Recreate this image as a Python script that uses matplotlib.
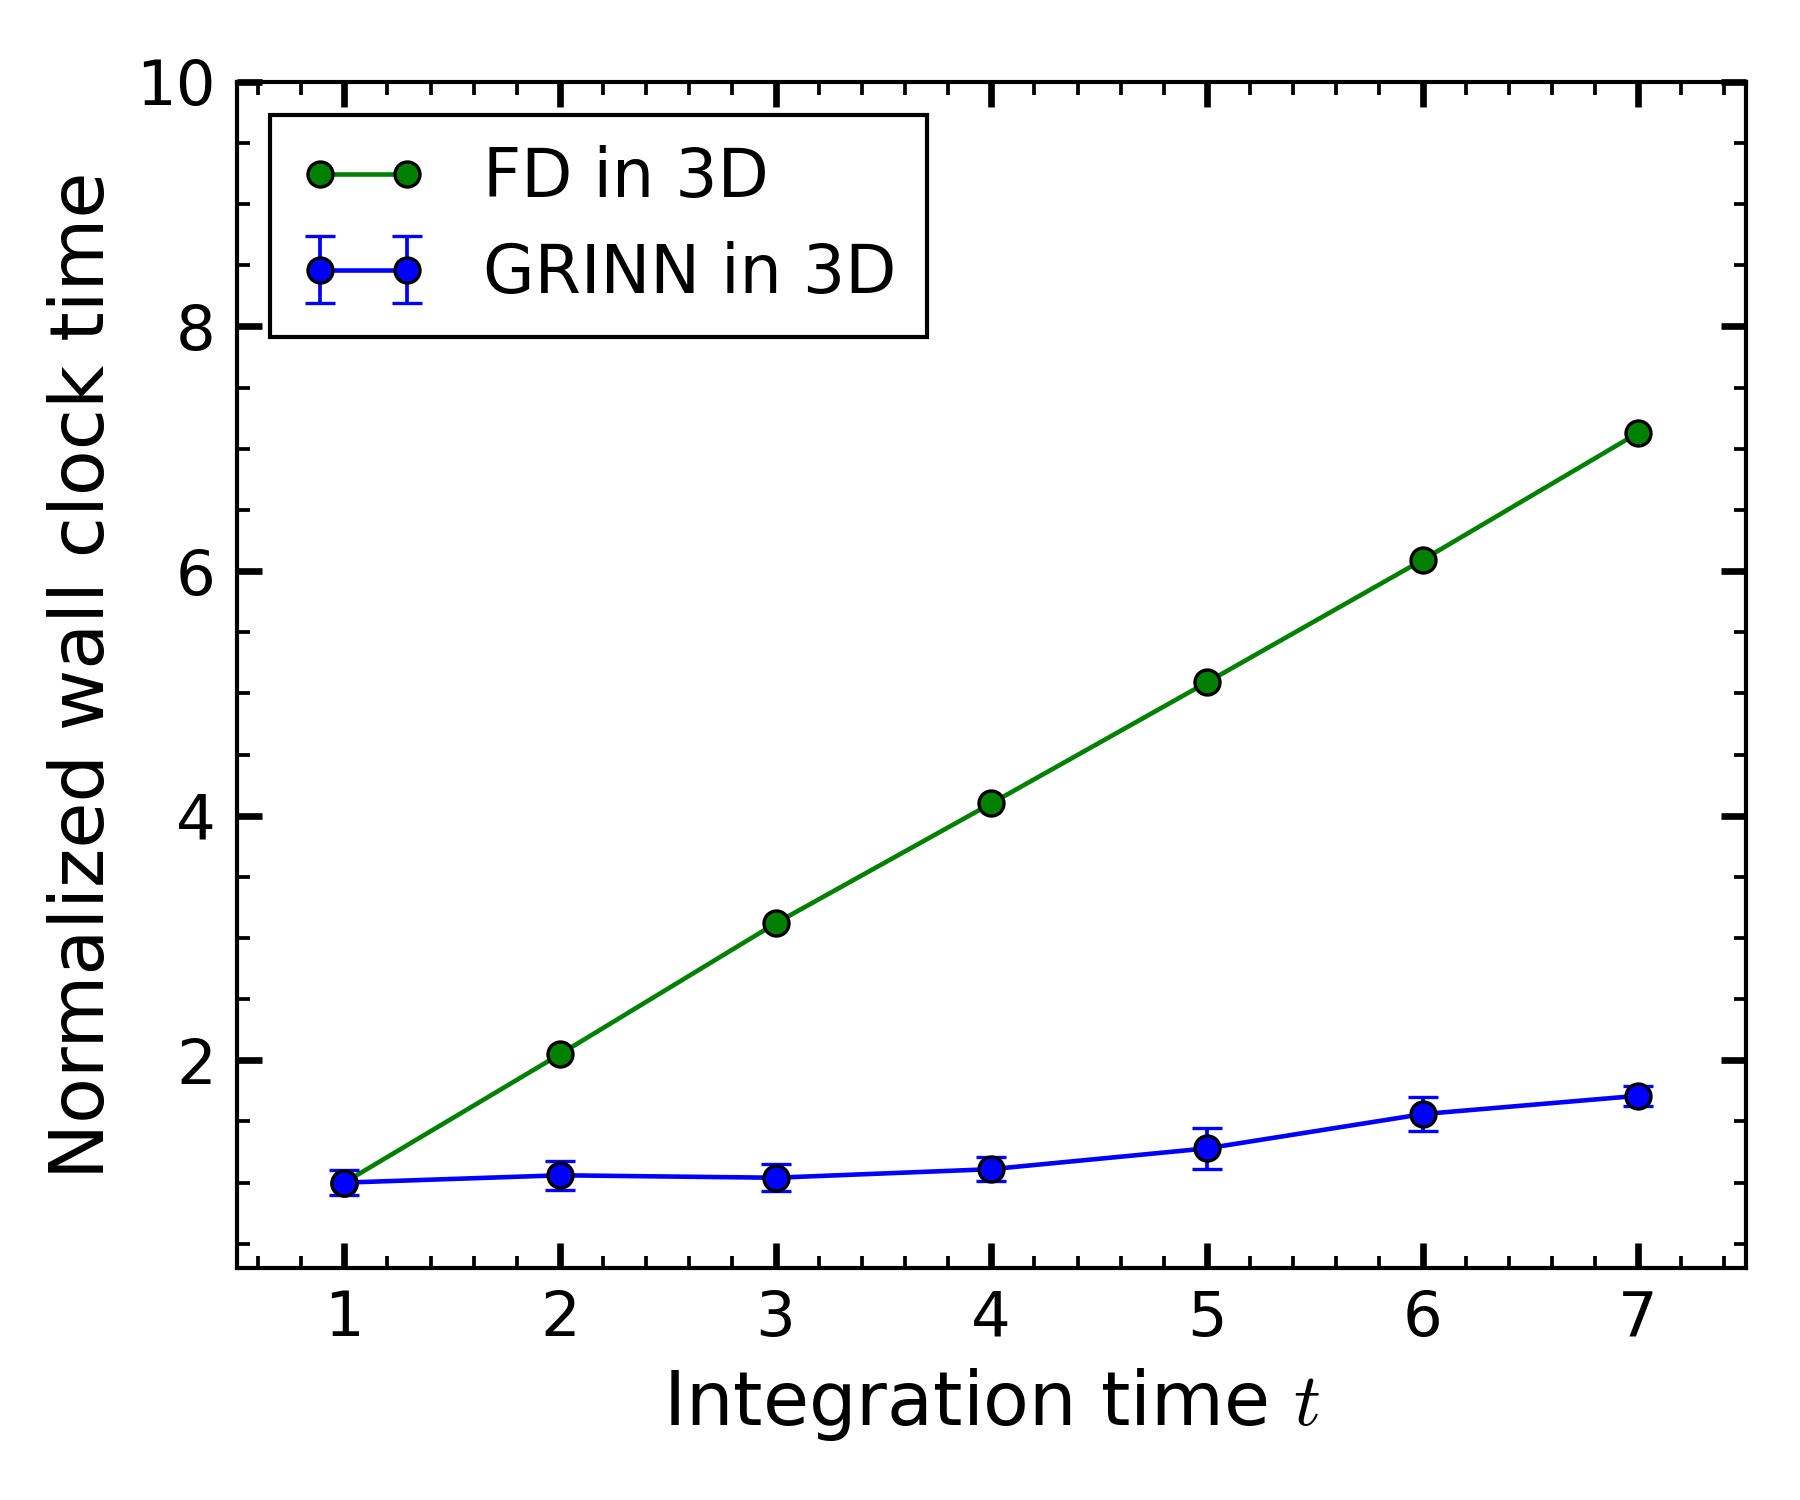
import matplotlib
matplotlib.use("Agg")
import matplotlib.pyplot as plt
from matplotlib.ticker import MultipleLocator

plt.rcParams.update({"font.size": 12, "mathtext.fontset": "cm"})

# data
t = [1, 2, 3, 4, 5, 6, 7]
fd = [1.0, 2.05, 3.12, 4.10, 5.09, 6.09, 7.13]
grinn = [1.0, 1.06, 1.04, 1.11, 1.28, 1.56, 1.71]
grinn_err = [0.10, 0.12, 0.11, 0.10, 0.17, 0.14, 0.08]

fig = plt.figure(figsize=(6, 5), dpi=300)
ax = fig.add_axes([0.1314, 0.1545, 0.8386, 0.791])

ax.plot(t, fd, "-o", color="green", lw=1.1, ms=6, mec="black", mew=0.8,
        label="FD in 3D")
ax.errorbar(t, grinn, yerr=grinn_err, fmt="-o", color="blue", lw=1.1, ms=6,
            mec="black", mew=0.8, ecolor="blue", elinewidth=0.9, capsize=3.5,
            capthick=0.9, label="GRINN in 3D")

ax.set_xlim(0.5, 7.5)
ax.set_ylim(0.3, 10)
ax.set_xticks(t)
ax.set_yticks([2, 4, 6, 8, 10])
ax.xaxis.set_minor_locator(MultipleLocator(0.2))
ax.yaxis.set_minor_locator(MultipleLocator(0.5))
ax.tick_params(which="both", direction="in", top=True, right=True)
ax.tick_params(which="major", length=6, width=1.6, labelsize=15, pad=5)
ax.tick_params(which="minor", length=3, width=0.9)
for s in ax.spines.values():
    s.set_linewidth(1.0)

ax.set_xlabel("Integration time $t$", fontsize=18)
ax.set_ylabel("Normalized wall clock time", fontsize=18)

leg = ax.legend(loc="upper left", fontsize=16, fancybox=False, framealpha=1,
                edgecolor="black", numpoints=2, handlelength=1.9,
                handletextpad=0.85, labelspacing=0.45, borderpad=0.45)
leg.get_frame().set_linewidth(1.0)

fig.savefig("out.png", dpi=300)
